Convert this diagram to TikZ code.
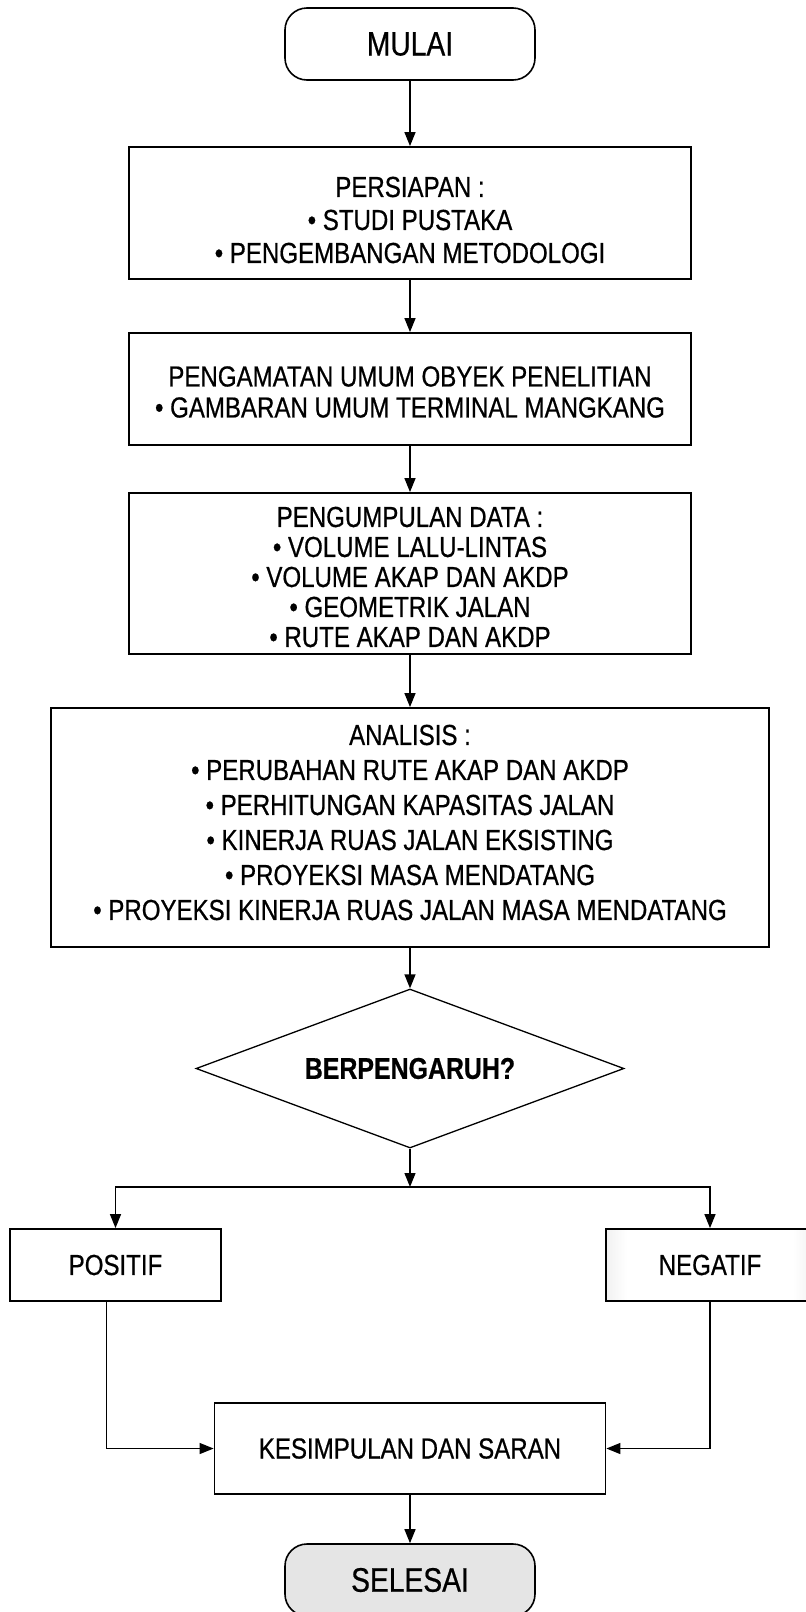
\documentclass[tikz,border=0pt]{standalone}
\usepackage{fontspec}
\setmainfont{Liberation Sans}[FakeStretch=0.83,FakeBold=0.6]
\usetikzlibrary{arrows.meta,shapes.geometric}
\pgfdeclarehorizontalshading{negshade}{100bp}{color(0bp)=(black!60); color(12bp)=(black!20); color(30bp)=(white); color(70bp)=(white); color(88bp)=(black!20); color(100bp)=(black!60)}
\begin{document}
\begin{tikzpicture}[x=1pt,y=-1pt,
  box/.style={draw,line width=1.8pt,inner sep=0pt},
  txt/.style={align=center,inner sep=0pt,font=\fontsize{29}{33}\selectfont},
  term/.style={draw,line width=1.6pt,rounded corners=22pt,inner sep=0pt,minimum width=250pt,minimum height=72pt,font=\fontsize{34}{36}\selectfont},
  arr/.style={-{Triangle[length=14pt,width=11pt]},line width=1.3pt}
]
\useasboundingbox (0,0) rectangle (806,1612);
\clip (0,0) rectangle (806,1612);

\node[term] (mulai) at (410,44) {MULAI};

\node[box,minimum width=562pt,minimum height=132pt] (pers) at (410,213) {};
\node[txt] (pers-t) at (410,220) {PERSIAPAN :\\ • STUDI PUSTAKA\\ • PENGEMBANGAN METODOLOGI};

\node[box,minimum width=562pt,minimum height=112pt] (peng) at (410,389) {};
\node[txt,font=\fontsize{29}{31}\selectfont] (peng-t) at (410,392) {PENGAMATAN UMUM OBYEK PENELITIAN\\ • GAMBARAN UMUM TERMINAL MANGKANG};

\node[box,minimum width=562pt,minimum height=161pt] (kump) at (410,573.5) {};
\node[txt,font=\fontsize{29}{30}\selectfont] (kump-t) at (410,577) {PENGUMPULAN DATA :\\ • VOLUME LALU-LINTAS\\ • VOLUME AKAP DAN AKDP\\ • GEOMETRIK JALAN\\ • RUTE AKAP DAN AKDP};

\node[box,minimum width=718pt,minimum height=239pt] (anal) at (410,827.5) {};
\node[txt,font=\fontsize{29}{35}\selectfont] (anal-t) at (410,822.5) {ANALISIS :\\ • PERUBAHAN RUTE AKAP DAN AKDP\\ • PERHITUNGAN KAPASITAS JALAN\\ • KINERJA RUAS JALAN EKSISTING\\ • PROYEKSI MASA MENDATANG\\ • PROYEKSI KINERJA RUAS JALAN MASA MENDATANG};

\node[draw,diamond,line width=1.3pt,inner sep=0pt,aspect=2.69,minimum width=428pt,minimum height=159pt,font=\fontsize{30}{32}\selectfont\bfseries] (dia) at (410,1068.5) {BERPENGARUH?};

\coordinate (split) at (410,1187);

\node[box,minimum width=211pt,minimum height=72pt,font=\fontsize{29}{30}\selectfont] (pos) at (115.5,1265) {POSITIF};
\node[box,shading=negshade,minimum width=208pt,minimum height=72pt,font=\fontsize{29}{30}\selectfont] (neg) at (710,1265) {NEGATIF};

\node[box,minimum width=391pt,minimum height=91pt,font=\fontsize{29}{30}\selectfont] (kes) at (410,1448.5) {KESIMPULAN DAN SARAN};

\node[term,fill=black!10] (sel) at (410,1580) {SELESAI};

\draw[arr] (mulai) -- (pers);
\draw[arr] (pers) -- (peng);
\draw[arr] (peng) -- (kump);
\draw[arr] (kump) -- (anal);
\draw[arr] (anal) -- (dia);
\draw[arr] (dia) -- (split);
\draw[arr] (split) -| (pos.north);
\draw[arr] (split) -| (neg.north);
\draw[arr] ([xshift=-9pt]pos.south) |- (kes.west);
\draw[arr] (neg.south) |- (kes.east);
\draw[arr] (kes) -- (sel);
\end{tikzpicture}
\end{document}
